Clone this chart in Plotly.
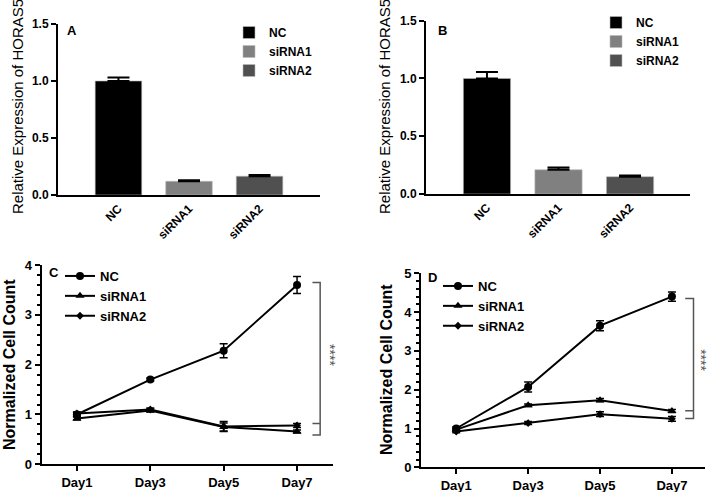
import plotly.graph_objects as go

# ---- data ----
groups = ["NC", "siRNA1", "siRNA2"]
bar_colors = ["#000000", "#808080", "#505050"]

expr_a = [1.0, 0.12, 0.165]
expr_a_err = [0.03, 0.01, 0.01]
expr_b = [1.0, 0.21, 0.15]
expr_b_err = [0.055, 0.02, 0.01]

days = ["Day1", "Day3", "Day5", "Day7"]

count_c = {
    "NC": [1.0, 1.7, 2.28, 3.6],
    "siRNA1": [0.92, 1.08, 0.75, 0.66],
    "siRNA2": [1.02, 1.1, 0.76, 0.78],
}
count_c_err = {
    "NC": [0.04, 0.03, 0.14, 0.17],
    "siRNA1": [0.03, 0.03, 0.08, 0.03],
    "siRNA2": [0.03, 0.03, 0.1, 0.04],
}
count_d = {
    "NC": [1.0, 2.07, 3.65, 4.4],
    "siRNA1": [0.97, 1.6, 1.73, 1.45],
    "siRNA2": [0.92, 1.14, 1.37, 1.25],
}
count_d_err = {
    "NC": [0.04, 0.13, 0.13, 0.12],
    "siRNA1": [0.03, 0.03, 0.04, 0.04],
    "siRNA2": [0.03, 0.04, 0.06, 0.06],
}
markers = {"NC": ("circle", 8), "siRNA1": ("triangle-up", 8), "siRNA2": ("diamond", 6)}

FONT = "Liberation Sans, Arial, sans-serif"
W, H = 709, 492


def px(x):
    return x / W


def py(y):
    return 1 - y / H


fig = go.Figure()

# bar panels A and B
for (vals, errs, xa, ya, leg) in [
    (expr_a, expr_a_err, "x", "y", "legend"),
    (expr_b, expr_b_err, "x2", "y2", "legend2"),
]:
    for i, g in enumerate(groups):
        fig.add_trace(go.Bar(
            x=[g], y=[vals[i]], name=g,
            marker=dict(color=bar_colors[i], line=dict(color="#bbbbbb", width=0.6)),
            width=0.66,
            error_y=dict(type="data", array=[errs[i]], arrayminus=[0], symmetric=False,
                         color="black", thickness=2, width=11),
            xaxis=xa, yaxis=ya, legend=leg,
        ))

# line panels C and D
for (data, errs, xa, ya, leg) in [
    (count_c, count_c_err, "x3", "y3", "legend3"),
    (count_d, count_d_err, "x4", "y4", "legend4"),
]:
    for g in groups:
        sym, size = markers[g]
        fig.add_trace(go.Scatter(
            x=days, y=data[g], name=g, mode="lines+markers",
            line=dict(color="black", width=2),
            marker=dict(symbol=sym, size=size, color="black"),
            error_y=dict(type="data", array=errs[g], color="black", thickness=1.5, width=4),
            xaxis=xa, yaxis=ya, legend=leg,
        ))

axis_common = dict(showline=True, linecolor="black", linewidth=2, showgrid=False,
                   zeroline=False, ticks="outside", tickwidth=2, ticklen=5,
                   tickcolor="black", automargin=False)
bar_tick = dict(family=FONT, size=12, color="black", weight="bold")
line_tick = dict(family=FONT, size=13, color="black", weight="bold")
minor = dict(ticks="outside", dtick=0.2, ticklen=3, tickwidth=1.5, tickcolor="black")
leg_common = dict(xanchor="left", yanchor="top", bgcolor="rgba(0,0,0,0)", tracegroupgap=0)

fig.update_layout(
    width=W, height=H,
    margin=dict(l=0, r=0, t=0, b=0, autoexpand=False),
    paper_bgcolor="white", plot_bgcolor="white",
    font=dict(family=FONT, color="black"),
    xaxis=dict(axis_common, domain=[px(58), px(320)], range=[-0.857, 2.857], ticks="",
               tickangle=-45, tickfont=bar_tick, anchor="y"),
    yaxis=dict(axis_common, domain=[py(195), py(24)], range=[0, 1.5],
               tickvals=[0, 0.5, 1, 1.5], tickformat=".1f", tickfont=bar_tick, anchor="x"),
    xaxis2=dict(axis_common, domain=[px(426), px(690)], range=[-0.852, 2.838], ticks="",
                tickangle=-45, tickfont=bar_tick, anchor="y2"),
    yaxis2=dict(axis_common, domain=[py(194), py(20.7)], range=[0, 1.5],
                tickvals=[0, 0.5, 1, 1.5], tickformat=".1f", tickfont=bar_tick, anchor="x2"),
    xaxis3=dict(axis_common, domain=[px(41.7), px(333)], range=[-0.48, 3.49],
                tickfont=line_tick, anchor="y3"),
    yaxis3=dict(axis_common, domain=[py(464.3), py(265)], range=[0, 4], dtick=1,
                tickfont=line_tick, minor=minor, anchor="x3"),
    xaxis4=dict(axis_common, domain=[px(421), px(705)], range=[-0.49, 3.46],
                tickfont=line_tick, anchor="y4"),
    yaxis4=dict(axis_common, domain=[py(467.3), py(273.3)], range=[0, 5], dtick=1,
                tickfont=line_tick, minor=minor, anchor="x4"),
    legend=dict(leg_common, x=px(229), y=py(18), font=dict(size=12, weight="bold")),
    legend2=dict(leg_common, x=px(596), y=py(8), font=dict(size=12, weight="bold")),
    legend3=dict(leg_common, x=px(60), y=py(261), font=dict(size=13, weight="bold")),
    legend4=dict(leg_common, x=px(438), y=py(271), font=dict(size=13, weight="bold")),
    showlegend=True,
)

annotations = [
    dict(text="A", x=px(72), y=py(31)),
    dict(text="B", x=px(442), y=py(31)),
    dict(text="C", x=px(54), y=py(272)),
    dict(text="D", x=px(432), y=py(277)),
]
annotations = [dict(a, xref="paper", yref="paper", showarrow=False,
                    xanchor="center", yanchor="middle",
                    font=dict(size=13, weight="bold")) for a in annotations]

for xc, yc in [(17, 107), (384, 107)]:
    annotations.append(dict(text="Relative Expression of HORAS5", x=px(xc), y=py(yc),
                            xref="paper", yref="paper", showarrow=False, textangle=-90,
                            xanchor="center", yanchor="middle", font=dict(size=15)))
for xc, yc in [(9, 365), (386, 370)]:
    annotations.append(dict(text="Normalized Cell Count", x=px(xc), y=py(yc),
                            xref="paper", yref="paper", showarrow=False, textangle=-90,
                            xanchor="center", yanchor="middle",
                            font=dict(size=16, weight="bold")))

# significance brackets
for xa, ya, xl, xr, top, mid, bot, sx, sy in [
    ("x3", "y3", 3.21, 3.315, 3.65, 0.82, 0.59, 3.45, 2.19),
    ("x4", "y4", 3.185, 3.30, 4.35, 1.46, 1.26, 3.40, 2.77),
]:
    fig.add_shape(type="path", xref=xa, yref=ya,
                  path=f"M {xl},{top} L {xr},{top} L {xr},{bot} L {xl},{bot}",
                  line=dict(color="#555555", width=1.5))
    fig.add_shape(type="line", xref=xa, yref=ya, x0=xl, x1=xr, y0=mid, y1=mid,
                  line=dict(color="#555555", width=1.5))
    annotations.append(dict(text="****", x=sx, y=sy, xref=xa, yref=ya, showarrow=False,
                            xanchor="center", yanchor="middle",
                            textangle=90, font=dict(size=14, color="#555555")))

fig.update_layout(annotations=annotations)

# the page body has a default 8px margin; drop it so the figure sits at the corner
fig.write_html("out.html", config={"displayModeBar": False},
               post_script="document.body.style.margin = '0px';")
